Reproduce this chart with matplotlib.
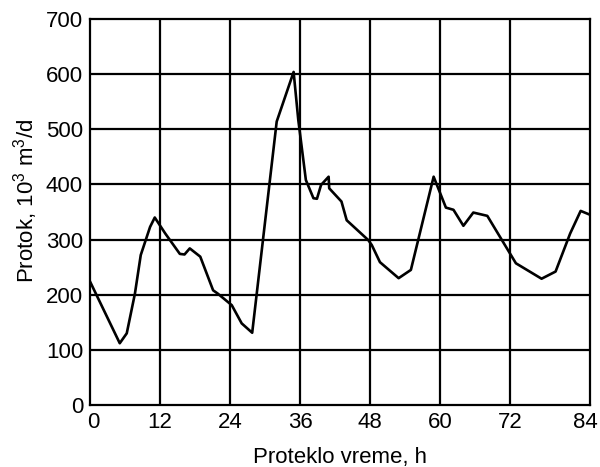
import matplotlib
matplotlib.use("Agg")
import matplotlib.pyplot as plt
import matplotlib.transforms as mtransforms

plt.rcParams['font.family'] = ['Liberation Sans', 'DejaVu Sans']
plt.rcParams['mathtext.fontset'] = 'custom'
plt.rcParams['mathtext.rm'] = 'Liberation Sans'
plt.rcParams['mathtext.it'] = 'Liberation Sans:italic'

# Data (hours, flow 10^3 m3/d)
hours = [0, 5.1, 6.3, 7.7, 8.7, 10.3, 11.1, 12.9, 15.4, 16.2, 17.1, 18.9, 21.1, 21.9,
         24.3, 26.0, 27.8, 32.0, 34.9, 35.7, 37.0, 38.3, 38.9, 39.6, 40.9, 41.0,
         43.1, 44.0, 47.7, 48.3, 49.7, 52.9, 55.0, 58.9, 61.0, 62.3, 64.0, 65.7,
         68.1, 73.0, 77.4, 79.8, 82.3, 84.1, 85.7]
flow = [224, 112, 130, 202, 272, 323, 340, 311, 274, 273, 284, 269, 208, 202,
        181, 148, 131, 514, 604, 517, 408, 375, 374, 399, 414, 393,
        369, 335, 299, 290, 259, 230, 245, 414, 358, 354, 325, 349,
        343, 257, 229, 242, 311, 352, 345]

xticks = [0, 12, 24, 36, 48, 60, 72, 84]
yticks = [0, 100, 200, 300, 400, 500, 600, 700]

fig = plt.figure(figsize=(6, 4.67), dpi=100)
ax = fig.add_axes([90/600, 1-405/467, 500/600, 386/467])

ax.plot(hours, flow, color='black', lw=1.9, zorder=3)

ax.set_xlim(0, 85.7)
ax.set_ylim(0, 700)
ax.set_xticks(xticks)
ax.set_yticks(yticks)
ax.tick_params(length=0, labelsize=16, pad=5)
ax.grid(True, color='black', lw=1.6)
gl = ax.xaxis.get_gridlines()
gl[0].set_visible(False)
gl[-1].set_visible(False)
ygl = ax.yaxis.get_gridlines()
ygl[0].set_visible(False)
ygl[-1].set_visible(False)
for s in ax.spines.values():
    s.set_linewidth(1.6)

labs = ax.get_xticklabels()
labs[0].set_transform(labs[0].get_transform() + mtransforms.ScaledTranslation(3/100, 0, fig.dpi_scale_trans))
labs[-1].set_transform(labs[-1].get_transform() + mtransforms.ScaledTranslation(5/100, 0, fig.dpi_scale_trans))

ax.set_xlabel('Proteklo vreme, h', fontsize=16, labelpad=10)
ax.set_ylabel(r'Protok, 10$^{3}$ m$^{3}$/d', fontsize=16)
ax.yaxis.set_label_coords(-0.101, 0.53)

fig.savefig('out.png', dpi=100)
